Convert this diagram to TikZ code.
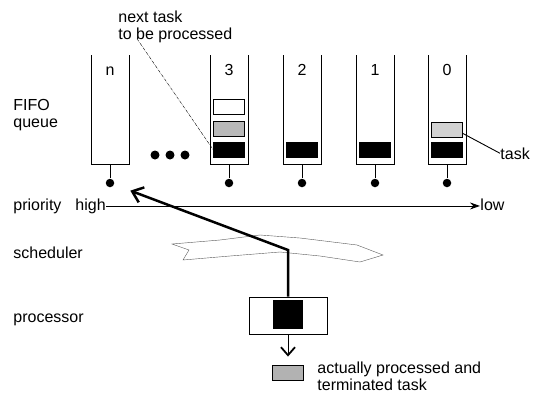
\documentclass[tikz,border=0pt]{standalone}
\usepackage{fontspec}
\setmainfont{Liberation Sans}
\usetikzlibrary{arrows.meta}
\begin{document}
\begin{tikzpicture}[x=1pt,y=-1pt,line width=0.9pt,
  lbl/.style={font=\fontsize{16}{17}\selectfont,inner sep=0pt,anchor=base west},
  axis/.style={lbl,text height=11.5pt,text depth=3.4pt},
  task/.style={draw,minimum width=31pt,minimum height=15pt,inner sep=0pt},
  dot/.style={circle,fill,inner sep=0pt,minimum size=8.5pt}]
\useasboundingbox (0,0) rectangle (541,392);
% queue n
\draw(91,55)--(91,164)--(129,164)--(129,55);
\node[lbl,anchor=base] at (110,75) {n};
\coordinate (qn) at (110,164);
\node[dot] (dn) at (110,183) {};
\draw (qn)--(dn);
\foreach \x in {155,170,185} \fill (\x,155) circle (4.5pt);
% queues 3..0
\foreach \i/\x in {3/229,2/302,1/375,0/447}{
  \draw(\x-19,55)--(\x-19,164)--(\x+19,164)--(\x+19,55);
  \node[lbl,anchor=base] at (\x,75) {\i};
  \node[task,fill=black] (b\i) at (\x,149.5) {};
  \coordinate (q\i) at (\x,164);
  \node[dot] (d\i) at (\x,183) {};
  \draw (q\i)--(d\i);
}
\node[task,fill=gray!55] (g3) at (229,129) {};
\node[task,fill=white] (w3) at (229,106.5) {};
\node[task,fill=gray!35] (g0) at (447,129.5) {};
\node[lbl] (tk) at (500,159) {task};
\draw ([yshift=-4pt]g0.east)--(tk.west);
\node[lbl,align=left] (nxt) at (118,39) {next task\\to be processed};
\draw[thin,densely dashdotted] (nxt.south west) ++(19,-4) -- (b3.west);
\node[lbl,align=left] (fifo) at (13,127) {FIFO\\queue};
% priority axis
\node[lbl] (prio) at (13,210) {priority};
\node[axis] (high) at (75,210) {high};
\node[axis] (low) at (480,210) {low};
\draw[-{Stealth[length=10pt,width=7pt]}] (high.east)--(low.west);
% scheduler
\node[lbl] (sch) at (13,258) {scheduler};
\draw[gray!70!black,thin] (172,244)--(189,250)--(183,260)--(230,256)--(280,252)
  --(320,256)--(360,262)--(383,255)--(357,245)--(300,238)--(260,235)--(220,240)--cycle;
% processor
\node[lbl] (pro) at (13,322) {processor};
\node[draw,minimum width=78pt,minimum height=37pt,inner sep=0pt] (proc) at (288,315.5) {};
\node[fill=black,minimum width=30pt,minimum height=29pt,inner sep=0pt] (cur) at (288,314.5) {};
\coordinate (sw) at (288,250);
\draw[line width=2.5pt,-{Straight Barb[length=10pt,width=16pt]},shorten >=17pt] (proc.north)--(sw)--(dn);
\node[task,fill=gray!60] (done) at (288,372.5) {};
\draw[-{Straight Barb[length=8pt,width=14pt,line width=1.8pt]},shorten >=8pt] (proc.south)--(done.north);
\node[lbl,align=left] (txt) at (317,390) {actually processed and\\terminated task};
\end{tikzpicture}
\end{document}
